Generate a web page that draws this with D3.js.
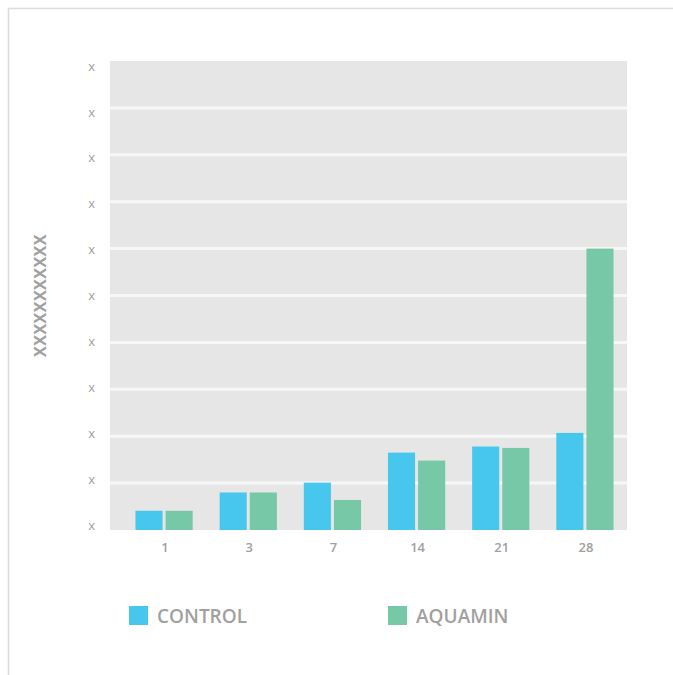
<!DOCTYPE html>
<html>
<head>
<meta charset="utf-8">
<script src="https://cdn.jsdelivr.net/npm/d3@7"></script>
<style>
  html, body { margin: 0; padding: 0; background: #fff; }
  svg { display: block; font-family: "Open Sans", sans-serif; }
</style>
</head>
<body>
<svg id="chart" width="673" height="675"></svg>
<script>
// Days of treatment and measured values per group
const days = ["1", "3", "7", "14", "21", "28"];
const seriesNames = ["CONTROL", "AQUAMIN"];
const controlValues = [0.41, 0.80, 1.01, 1.65, 1.78, 2.07];
const aquaminValues = [0.41, 0.80, 0.64, 1.48, 1.75, 6.0];
const yTicks = [0, 1, 2, 3, 4, 5, 6, 7, 8, 9, 10];
const yTickLabels = ["x", "x", "x", "x", "x", "x", "x", "x", "x", "x", "x"];
const yTitle = "XXXXXXXXXXX";
const colors = ["#48c7ee", "#77c8a7"];

const svg = d3.select("#chart");
const textColor = "#a0a0a0";

// Outer card frame
svg.append("rect")
  .attr("x", 8.5).attr("y", 8.5)
  .attr("width", 700).attr("height", 700)
  .attr("fill", "none")
  .attr("stroke", "#dcdcdc")
  .attr("stroke-width", 1.5);

const plot = { left: 110, right: 627, top: 61, bottom: 530 };

const y = d3.scaleLinear().domain([0, 10]).range([plot.bottom, plot.top]);
// Tick labels sit on a slightly tighter vertical run than the grid
const yLabel = d3.scaleLinear().domain([0, 10]).range([525, 66]);
const x = d3.scaleBand().domain(days).range([122, plot.right])
  .paddingInner(0.32).paddingOuter(0.16);
const xSub = d3.scaleBand().domain(seriesNames).range([0, x.bandwidth()])
  .paddingInner(0.1).paddingOuter(0);

// Plot background
svg.append("rect")
  .attr("x", plot.left).attr("y", plot.top)
  .attr("width", plot.right - plot.left)
  .attr("height", plot.bottom - plot.top)
  .attr("fill", "#e6e6e6");

// Horizontal grid lines
svg.append("g").selectAll("line")
  .data(yTicks.slice(1, -1))
  .join("line")
  .attr("x1", plot.left).attr("x2", plot.right)
  .attr("y1", d => y(d)).attr("y2", d => y(d))
  .attr("stroke", "#f7f7f7")
  .attr("stroke-width", 3);

// Y axis labels
const yAxis = d3.axisLeft(yLabel).tickValues(yTicks)
  .tickFormat((d, i) => yTickLabels[i]).tickSize(0).tickPadding(0);
const gy = svg.append("g").attr("transform", "translate(95,0)").call(yAxis);
gy.select(".domain").remove();
gy.selectAll("text")
  .attr("fill", textColor)
  .style("font-family", "'Open Sans', sans-serif")
  .style("font-size", "13px")
  .style("font-weight", "400");

// Bars
const rows = days.map((d, i) => ({ day: d, values: [controlValues[i], aquaminValues[i]] }));
svg.append("g").selectAll("g")
  .data(rows)
  .join("g")
  .attr("transform", d => `translate(${x(d.day)},0)`)
  .selectAll("rect")
  .data(d => d.values.map((v, j) => ({ name: seriesNames[j], value: v, j })))
  .join("rect")
  .attr("x", d => xSub(d.name))
  .attr("width", xSub.bandwidth())
  .attr("y", d => y(d.value))
  .attr("height", d => y(0) - y(d.value))
  .attr("fill", d => colors[d.j]);

// X axis labels
const xAxis = d3.axisBottom(x).tickSize(0).tickPadding(0);
const gx = svg.append("g").attr("transform", `translate(1,${plot.bottom + 13})`).call(xAxis);
gx.select(".domain").remove();
gx.selectAll("text")
  .attr("fill", textColor)
  .style("font-family", "'Open Sans', sans-serif")
  .style("font-size", "13px")
  .style("font-weight", "600");

// Y axis title
svg.append("text")
  .attr("transform", `translate(46,${(plot.top + plot.bottom) / 2}) rotate(-90)`)
  .attr("text-anchor", "middle")
  .attr("fill", textColor)
  .style("font-size", "16px")
  .style("font-weight", "700")
  .style("letter-spacing", "0.5px")
  .text(yTitle);

// Legend
const legendX = [129, 388];
const legend = svg.append("g").selectAll("g")
  .data(seriesNames)
  .join("g")
  .attr("transform", (d, i) => `translate(${legendX[i]},606)`);
legend.append("rect")
  .attr("width", 19).attr("height", 19)
  .attr("fill", (d, i) => colors[i]);
legend.append("text")
  .attr("x", 28).attr("y", 16.5)
  .attr("fill", textColor)
  .style("font-size", "19px")
  .style("font-weight", "600")
  .text(d => d);
</script>
</body>
</html>
